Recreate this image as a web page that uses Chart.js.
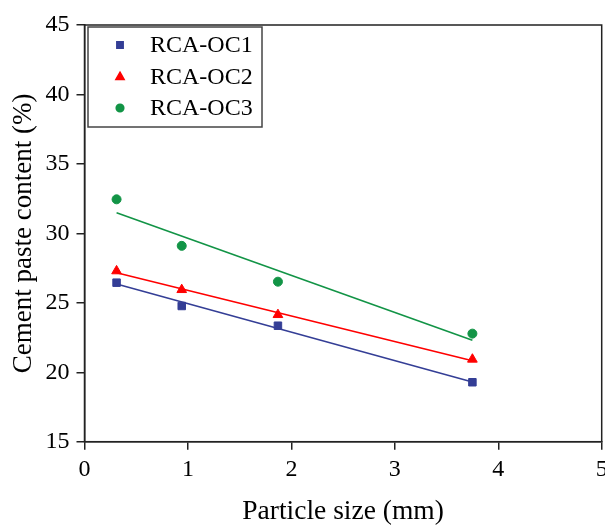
<!DOCTYPE html>
<html>
<head>
<meta charset="utf-8">
<script src="https://cdn.jsdelivr.net/npm/chart.js@4.4.1/dist/chart.umd.min.js"></script>
<style>
    html, body { margin: 0; padding: 0; background: #fff; overflow: hidden; }
    #wrap { width: 615px; height: 527px; }
</style>
</head>
<body>
<div id="wrap"><canvas id="pasteChart" width="615" height="527"></canvas></div>
<script>
// values
const particleSize = [0.31, 0.94, 1.87, 3.75];
const oc1 = [26.45, 24.77, 23.35, 19.28];
const oc2 = [27.29, 25.94, 24.14, 20.93];
const oc3 = [32.45, 29.1, 26.52, 22.78];

// linear fit lines, end points
const fitX = [0.31, 3.75];
const fit1 = [26.35, 19.3];
const fit2 = [27.17, 20.83];
const fit3 = [31.49, 22.3];

const seriesNames = ['RCA-OC1', 'RCA-OC2', 'RCA-OC3'];
const xTicks = [0, 1, 2, 3, 4, 5];
const yTicks = [15, 20, 25, 30, 35, 40, 45];

const BLUE = 'rgb(52, 62, 150)';
const RED = 'rgb(255, 0, 0)';
const GREEN = 'rgb(18, 148, 70)';
const FONT = "'Liberation Serif', 'Times New Roman', serif";

function pts(xs, ys) {
    return xs.map((x, i) => ({ x: x, y: ys[i] }));
}

const markers = [
    { color: BLUE, style: 'rect', radius: 5.3 },
    { color: RED, style: 'triangle', radius: 5.6 },
    { color: GREEN, style: 'circle', radius: 4.5 }
];

// plot frame (top and right sides too)
const framePlugin = {
    id: 'frame',
    beforeDatasetsDraw(chart) {
        const a = chart.chartArea;
        const ctx = chart.ctx;
        ctx.save();
        ctx.strokeStyle = '#222';
        ctx.lineWidth = 1.5;
        ctx.strokeRect(a.left, a.top, a.right - a.left, a.bottom - a.top);
        ctx.restore();
    }
};

// boxed legend in the upper left corner
const legendBoxPlugin = {
    id: 'legendBox',
    afterDraw(chart) {
        const ctx = chart.ctx;
        ctx.save();
        ctx.strokeStyle = '#444';
        ctx.lineWidth = 1.5;
        ctx.fillStyle = '#fff';
        ctx.fillRect(88, 27, 174, 100);
        ctx.strokeRect(88, 27, 174, 100);
        const rows = [45, 77, 108];
        seriesNames.forEach((name, i) => {
            const m = markers[i];
            ctx.fillStyle = m.color;
            ctx.strokeStyle = m.color;
            Chart.helpers.drawPoint(ctx, { pointStyle: m.style, radius: m.radius * 0.85, borderWidth: 1 }, 120, rows[i]);
            ctx.fillStyle = '#000';
            ctx.font = '24px ' + FONT;
            ctx.textBaseline = 'middle';
            ctx.textAlign = 'left';
            ctx.fillText(name, 150, rows[i] + 1);
        });
        ctx.restore();
    }
};

const datasets = [];
[oc1, oc2, oc3].forEach((ys, i) => {
    const m = markers[i];
    datasets.push({
        label: seriesNames[i],
        data: pts(particleSize, ys),
        showLine: false,
        pointStyle: m.style,
        pointRadius: m.radius,
        pointBackgroundColor: m.color,
        pointBorderColor: m.color,
        pointBorderWidth: 1
    });
});
[fit1, fit2, fit3].forEach((ys, i) => {
    datasets.push({
        label: seriesNames[i] + ' fit',
        data: pts(fitX, ys),
        showLine: true,
        borderColor: markers[i].color,
        borderWidth: 1.6,
        pointRadius: 0
    });
});

new Chart(document.getElementById('pasteChart'), {
    type: 'scatter',
    data: { datasets: datasets },
    options: {
        responsive: false,
        devicePixelRatio: 1,
        animation: false,
        layout: { padding: { top: 25, right: 13.3, left: 0, bottom: 0 } },
        plugins: {
            legend: { display: false },
            tooltip: { enabled: false }
        },
        scales: {
            x: {
                type: 'linear',
                min: 0,
                max: 5,
                afterFit: (s) => { s.height = 85.3; },
                afterBuildTicks: (s) => { s.ticks = xTicks.map(v => ({ value: v })); },
                ticks: { color: '#000', font: { family: FONT, size: 24 }, padding: 6 },
                grid: { drawOnChartArea: false, drawTicks: true, tickLength: 8, color: '#222', lineWidth: 1.5 },
                border: { display: true, color: '#222', width: 1.5 },
                title: {
                    display: true,
                    text: 'Particle size (mm)',
                    color: '#000',
                    font: { family: FONT, size: 27.5, lineHeight: 1 },
                    padding: { top: 0, bottom: 1 }
                }
            },
            y: {
                type: 'linear',
                min: 15,
                max: 45,
                afterFit: (s) => { s.width = 84.5; },
                afterBuildTicks: (s) => { s.ticks = yTicks.map(v => ({ value: v })); },
                ticks: { color: '#000', font: { family: FONT, size: 24 }, padding: 7 },
                grid: { drawOnChartArea: false, drawTicks: true, tickLength: 8, color: '#222', lineWidth: 1.5 },
                border: { display: true, color: '#222', width: 1.5 },
                title: {
                    display: true,
                    text: 'Cement paste content (%)',
                    color: '#000',
                    font: { family: FONT, size: 27, lineHeight: 1 },
                    padding: { top: 10, bottom: 0 }
                }
            }
        }
    },
    plugins: [framePlugin, legendBoxPlugin]
});
</script>
</body>
</html>
